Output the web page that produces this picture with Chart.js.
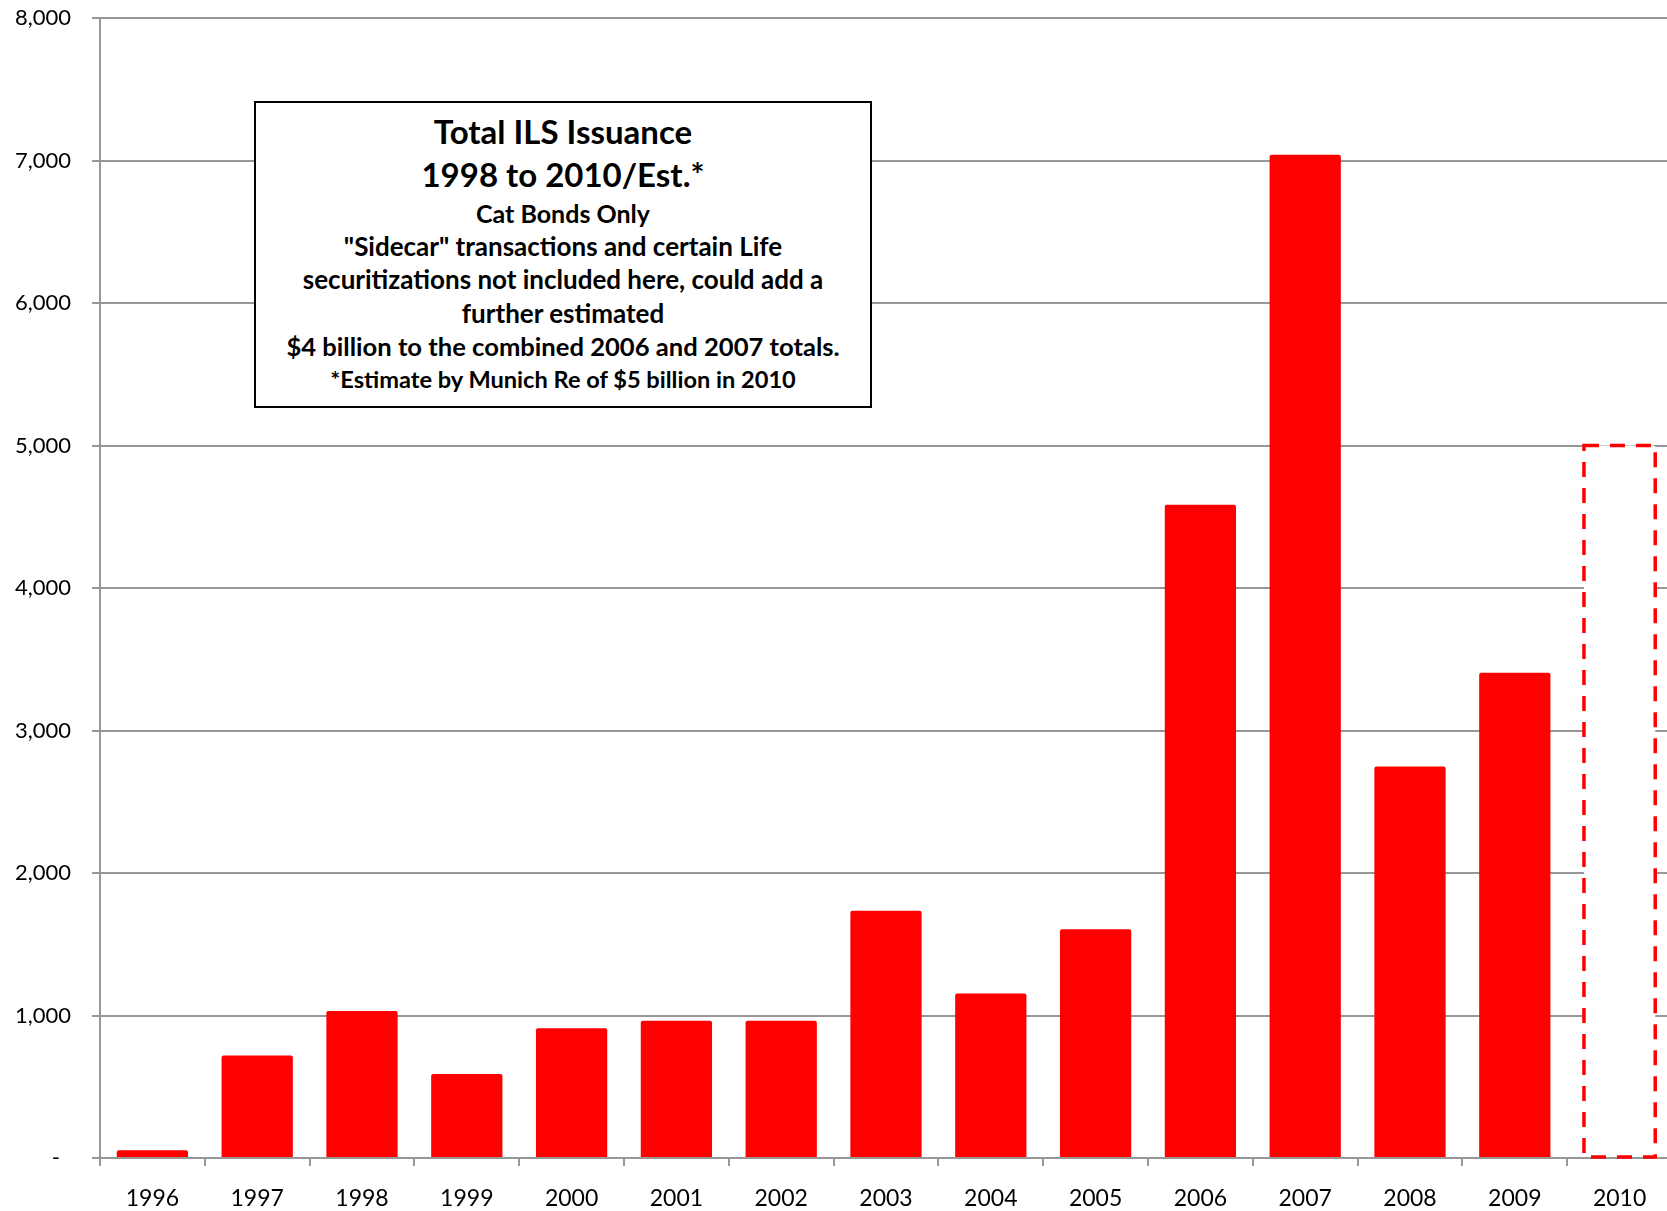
<!DOCTYPE html>
<html>
<head>
<meta charset="utf-8">
<script src="https://cdn.jsdelivr.net/npm/chart.js@4.4.0/dist/chart.umd.min.js"></script>
<style>
  html, body { margin: 0; padding: 0; background: #fff; overflow: hidden; }
  #wrap { position: relative; width: 1667px; height: 1211px; overflow: hidden; }
  #chart { position: absolute; left: 0; top: 0; }
  #note {
    position: absolute; left: 254px; top: 101px; width: 614px; height: 303px;
    border: 2px solid #000; background: #fff; color: #000;
    font-family: Lato, "Noto Sans", sans-serif; font-weight: bold; text-align: center;
  }
  #note div { position: absolute; left: 0; right: 0; white-space: nowrap; line-height: 1; transform: translateY(-50%); }
</style>
</head>
<body>
<div id="wrap">
  <canvas id="chart" width="1680" height="1211"></canvas>
  <div id="note">
    <div style="top:28px;font-size:33px">Total ILS Issuance</div>
    <div style="top:71px;font-size:33px">1998 to 2010/Est.*</div>
    <div style="top:110px;font-size:25px">Cat Bonds Only</div>
    <div style="top:143px;font-size:26px">"Sidecar" transactions and certain Life</div>
    <div style="top:176px;font-size:26px">securitizations not included here, could add a</div>
    <div style="top:210px;font-size:26px">further estimated</div>
    <div style="top:244px;font-size:25.6px">$4 billion to the combined 2006 and 2007 totals.</div>
    <div style="top:277px;font-size:23.6px">*Estimate by Munich Re of $5 billion in 2010</div>
  </div>
</div>
<script>
// Cat bond issuance by year, USD millions
const years = ['1996', '1997', '1998', '1999', '2000', '2001', '2002', '2003',
               '2004', '2005', '2006', '2007', '2008', '2009', '2010'];
const issuance = [55, 720, 1031, 590, 911, 963, 963, 1735, 1155, 1605, 4585, 7040, 2748, 3405, 5000];
// 2010 is an estimate, drawn as a dashed outline
const estimated = [false, false, false, false, false, false, false, false,
                   false, false, false, false, false, false, true];
const yMin = 0;
const yMax = 8000;
const yStep = 1000;

const RED = '#ff0000';
const GRID = '#979797';
const FAMILY = 'Lato, "Noto Sans", sans-serif';

// Dashed outline for estimated bars, placed from the bar elements' own geometry
const estimateOutline = {
  id: 'estimateOutline',
  afterDatasetsDraw(chart) {
    const meta = chart.getDatasetMeta(0);
    const ctx = chart.ctx;
    meta.data.forEach((bar, i) => {
      if (!estimated[i]) return;
      const { x, y, base, width } = bar.getProps(['x', 'y', 'base', 'width'], true);
      ctx.save();
      ctx.strokeStyle = RED;
      ctx.lineWidth = 3.5;
      ctx.setLineDash([15, 11]);
      ctx.strokeRect(x - width / 2, y, width, base - y);
      ctx.restore();
    });
  }
};

new Chart(document.getElementById('chart'), {
  type: 'bar',
  data: {
    labels: years,
    datasets: [{
      data: issuance,
      backgroundColor: estimated.map(e => e ? '#ffffff' : RED),
      borderWidth: 0,
      borderRadius: 2,
      barPercentage: 0.68,
      categoryPercentage: 1
    }]
  },
  options: {
    responsive: false,
    animation: false,
    layout: { padding: { top: 18, right: 8, left: 0, bottom: 0 } },
    plugins: { legend: { display: false }, tooltip: { enabled: false } },
    scales: {
      x: {
        afterFit(scale) { scale.height = 53; },
        grid: { drawOnChartArea: false, offset: true, tickLength: 8, color: GRID, lineWidth: 2 },
        border: { color: GRID, width: 2 },
        ticks: { color: '#000', font: { family: FAMILY, size: 23 }, padding: 19, maxRotation: 0, autoSkip: false }
      },
      y: {
        min: yMin,
        max: yMax,
        afterFit(scale) {
          scale.width = 100;
          scale.paddingTop = 0;
          scale.paddingBottom = 0;
        },
        grid: { color: GRID, lineWidth: 2, tickLength: 8 },
        border: { color: GRID, width: 2 },
        ticks: {
          stepSize: yStep,
          color: '#000',
          font: { family: FAMILY, size: 22 },
          padding: 21,
          callback: v => v === 0 ? '-\u2002' : v.toLocaleString('en-US')
        }
      }
    }
  },
  plugins: [estimateOutline]
});
</script>
</body>
</html>
